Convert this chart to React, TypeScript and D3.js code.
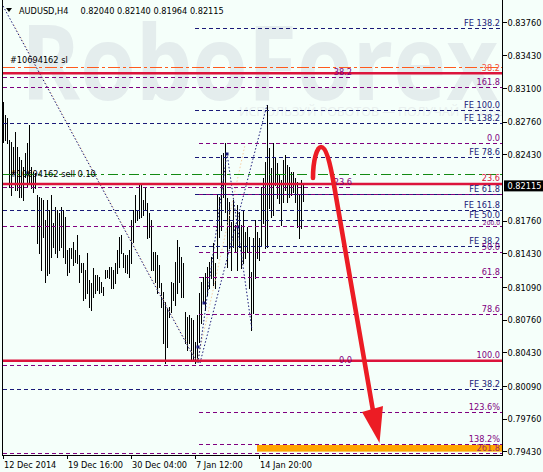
import React from "react";
import * as d3 from "d3";

// ---------- DATA ----------
const barHigh = [
  0.82965, 0.82831, 0.82801, 0.82579, 0.82558, 0.82508, 0.82659, 0.82508, 0.82407, 0.82377,
  0.82306, 0.82447, 0.82548, 0.8273, 0.82306, 0.82255, 0.82245, 0.82023, 0.82003, 0.81993,
  0.81973, 0.81771, 0.81973, 0.81872, 0.82023, 0.8174, 0.81902, 0.81872, 0.81841, 0.81902,
  0.81872, 0.81801, 0.81468, 0.81488, 0.81488, 0.81548, 0.81468, 0.81619, 0.81417, 0.81333,
  0.81333, 0.81266, 0.81434, 0.81165, 0.81131, 0.81283, 0.81215, 0.81215, 0.81198, 0.81147,
  0.81097, 0.81266, 0.81266, 0.81299, 0.81299, 0.81266, 0.81333, 0.81468, 0.81602, 0.81619,
  0.81434, 0.81417, 0.81417, 0.81468, 0.81771, 0.81872, 0.82023, 0.81872, 0.82124, 0.82141,
  0.81973, 0.82107, 0.81939, 0.81838, 0.81771, 0.8145, 0.8145, 0.81417, 0.81316, 0.81131,
  0.81046, 0.80945, 0.80879, 0.80895, 0.81147, 0.81131, 0.81349, 0.81569, 0.81501, 0.814,
  0.81333, 0.80844, 0.80794, 0.80811, 0.80778, 0.80761, 0.80541, 0.80811, 0.8103, 0.81147,
  0.81198, 0.81232, 0.81299, 0.81349, 0.814, 0.81535, 0.81333, 0.82023, 0.82006, 0.82427,
  0.82444, 0.82545, 0.8199, 0.81955, 0.81753, 0.81973, 0.8172, 0.81922, 0.81854, 0.8172,
  0.81872, 0.81652, 0.81703, 0.81602, 0.81248, 0.81586, 0.81771, 0.81652, 0.81586, 0.82107,
  0.82192, 0.82359, 0.82932, 0.82495, 0.82293, 0.82545, 0.82394, 0.82343, 0.82225, 0.82175,
  0.82377, 0.82427, 0.82326, 0.82309, 0.82258, 0.82258, 0.82192, 0.82157, 0.82023, 0.82175,
  0.8214,
];
const barLow = [
  0.82561, 0.82579, 0.82548, 0.82104, 0.82023, 0.82245, 0.82074, 0.82074, 0.82003, 0.82003,
  0.81973, 0.82205, 0.82104, 0.82144, 0.82094, 0.82053, 0.82094, 0.81538, 0.81437, 0.81266,
  0.81599, 0.81144, 0.81215, 0.81235, 0.81397, 0.81498, 0.81437, 0.81397, 0.81468, 0.81498,
  0.81397, 0.81336, 0.81215, 0.81245, 0.81387, 0.81316, 0.81346, 0.81336, 0.81147, 0.81248,
  0.80963, 0.8098, 0.8103, 0.80895, 0.80862, 0.80996, 0.8103, 0.81064, 0.8103, 0.81046,
  0.81013, 0.81182, 0.81198, 0.81182, 0.81081, 0.81081, 0.81131, 0.81232, 0.81299, 0.81434,
  0.81299, 0.81248, 0.81232, 0.81198, 0.81333, 0.81551, 0.81753, 0.81771, 0.81788, 0.81804,
  0.81821, 0.81872, 0.81586, 0.81602, 0.81266, 0.81266, 0.81147, 0.81033, 0.81097, 0.80895,
  0.80525, 0.80323, 0.80491, 0.80794, 0.80844, 0.80963, 0.80912, 0.8103, 0.81147, 0.80996,
  0.80996, 0.80525, 0.80458, 0.80525, 0.80357, 0.80357, 0.80323, 0.80357, 0.80541, 0.80727,
  0.80929, 0.80862, 0.81013, 0.81081, 0.81182, 0.81114, 0.81081, 0.81384, 0.81602, 0.8167,
  0.82006, 0.81854, 0.81299, 0.81485, 0.81266, 0.81501, 0.8145, 0.81266, 0.81501, 0.81283,
  0.81333, 0.81384, 0.8145, 0.81081, 0.8066, 0.80828, 0.81182, 0.81384, 0.81367, 0.81518,
  0.81737, 0.81485, 0.81501, 0.81889, 0.81804, 0.81821, 0.82124, 0.8199, 0.81939, 0.8172,
  0.81955, 0.82074, 0.81955, 0.82006, 0.82023, 0.82056, 0.81955, 0.81703, 0.81586, 0.81687,
  0.81964,
];

const headerSymbol = "AUDUSD,H4";
const headerOHLC = ["0.82040", "0.82140", "0.81964", "0.82115"];
const lastClose = 0.82115;

const priceTicks = [0.8376, 0.8343, 0.831, 0.8276, 0.8243, 0.8176, 0.8143, 0.8109, 0.8076, 0.8043, 0.8009, 0.7976, 0.7943];
const timeTickIndex = [0, 32, 64, 96, 128];
const timeTickLabels = ["12 Dec 2014", "19 Dec 16:00", "30 Dec 04:00", "7 Jan 12:00", "14 Jan 20:00"];

// Fibonacci expansion levels (navy): price, start bar index, label
const feLevelPrice = [0.83707, 0.82874, 0.8274, 0.82397, 0.82023, 0.81867, 0.81766, 0.81505, 0.80054];
const feLevelStart = [95.75, 95.75, -0.25, 95.75, 95.75, -0.25, 95.75, 95.75, -0.25];
const feLevelLabel = ["FE 138.2", "FE 100.0", "FE 138.2", "FE 78.6", "FE 61.8", "FE 161.8", "FE 50.0", "FE 38.2", "FE 38.2"];

// Fibonacci retracement levels (purple): price, start index, end index, label
const fiboPrice = [0.83209, 0.83104, 0.82545, 0.82101, 0.82023, 0.81703, 0.8144, 0.81192, 0.80818, 0.80303, 0.79828, 0.79508, 0.79414];
const fiboStart = [-0.25, -0.25, 97.75, -0.25, 97.75, -0.25, 97.75, 97.75, 97.75, -0.25, 97.75, 97.75, -0.25];
const fiboEnd = [174.25, 249.25, 249.25, 174.25, 249.25, 249.25, 249.25, 249.25, 249.25, 174.25, 249.25, 249.25, 249.25];
const fiboLabel = ["38.2", "161.8", "0.0", "23.6", "", "200.0", "50.0", "61.8", "78.6", "0.0", "123.6%", "138.2%", "261.8"];

// Solid horizontal levels (red)
const redLevelPrice = [0.83252, 0.82134, 0.80349];
const redLevelLabel = ["38.2", "23.6", "100.0"];

// Order lines
const slLevel = 0.83313;
const entryLevel = 0.82232;
const slText = "#10694162 sl";
const entryText = "#10694162 sell 0.10";

// Target zone
const zonePrices = [0.79498, 0.79431];
const zoneStart = 126.75;

// Dotted trend lines: [index1, price1, index2, price2]
const navyTrends = [
  [-0.25, 0.83932, 96.75, 0.80326],
  [97.25, 0.80326, 111.75, 0.82447],
  [98.25, 0.80326, 131.75, 0.82932],
  [111.75, 0.82447, 124.25, 0.8066],
];
const peachTrends = [
  [5.25, 0.8374, 96.75, 0.80336],
  [96.75, 0.80326, 120.75, 0.82528],
];
const anchorPoints = [
  [111.75, 0.82437],
  [97.25, 0.80488],
  [100.25, 0.80932],
  [117.25, 0.817],
];

// Forecast arrow (index, price)
const arrowCurve = [
  [154.75, 0.82194], [154.75, 0.82376], [156.75, 0.82508], [158.75, 0.82508],
  [161.25, 0.82508], [163.25, 0.82356], [165.25, 0.82124], [185.0, 0.79815],
];
const arrowHead = [[179.25, 0.79831], [189.75, 0.79892], [188.0, 0.79518]];

// ---------- LAYOUT ----------
const W = 543;
const H = 472;
const plotLeft = 3;
const plotRight = 502;
const plotTop = 2;
const plotBottom = 455;

const x = d3.scaleLinear().domain([-0.25, 249.25]).range([plotLeft, plotRight]);
const y = d3.scaleLinear().domain([0.79397, 0.83972]).range([plotBottom, plotTop]);

const FONT = "'DejaVu Sans', Verdana, sans-serif";
const FS = 8.2;
const NAVY = "#1a1a78";
const PURPLE = "#800080";
const CRIMSON = "#dc143c";
const BG = "#f5fffa";

const crisp = (v: number) => Math.floor(v) + 0.5;

export default function App() {
  const arrowPath = d3.path();
  const ac = arrowCurve.map(([i, p]) => [x(i), y(p)]);
  arrowPath.moveTo(ac[0][0], ac[0][1]);
  arrowPath.bezierCurveTo(ac[1][0], ac[1][1], ac[2][0], ac[2][1], ac[3][0], ac[3][1]);
  arrowPath.bezierCurveTo(ac[4][0], ac[4][1], ac[5][0], ac[5][1], ac[6][0], ac[6][1]);
  arrowPath.lineTo(ac[7][0], ac[7][1]);
  const headPts = arrowHead.map(([i, p]) => `${x(i)},${y(p)}`).join(" ");

  const redLabelColors = ["#f0503c", CRIMSON, PURPLE];

  return (
    <svg
      width={W}
      height={H}
      style={{ position: "absolute", left: 0, top: 0, display: "block" }}
      fontFamily={FONT}
    >
      <defs>
        <clipPath id="plot">
          <rect x={plotLeft} y={0} width={plotRight - plotLeft} height={plotBottom} />
        </clipPath>
      </defs>
      <rect x={0} y={0} width={W} height={H} fill={BG} />

      {/* watermark */}
      <g clipPath="url(#plot)">
        <text x={21} y={100} fontSize={104} fontFamily="'Open Sans', sans-serif" fontWeight={700}
          fill="#e4eded" textLength={477} lengthAdjust="spacingAndGlyphs">RoboForex</text>
        <text x={239} y={116} fontSize={12.5} fontFamily="'Open Sans', sans-serif"
          fill="#e8efee">ИСПОЛЬЗУЙ РОБОТОВ — ПОЛУЧАЙ ПРИБЫЛЬ</text>
      </g>

      <g clipPath="url(#plot)">
        {/* bars */}
        {barHigh.map((h, i) => (
          <line key={"b" + i} x1={crisp(x(i))} x2={crisp(x(i))} y1={Math.round(y(h))} y2={Math.round(y(barLow[i])) + 1}
            stroke="#000" strokeWidth={1} shapeRendering="crispEdges" />
        ))}

        {/* target zone */}
        <rect x={x(zoneStart)} y={y(zonePrices[0])} width={x(249.25) - x(zoneStart)}
          height={y(zonePrices[1]) - y(zonePrices[0])} fill="#ffa500" />

        {/* dotted trend lines */}
        {peachTrends.map((t, k) => (
          <line key={"pt" + k} x1={x(t[0])} y1={y(t[1])} x2={x(t[2])} y2={y(t[3])}
            stroke="#f7cfa4" strokeWidth={1} strokeDasharray="1.5,2" />
        ))}
        {navyTrends.map((t, k) => (
          <line key={"nt" + k} x1={x(t[0])} y1={y(t[1])} x2={x(t[2])} y2={y(t[3])}
            stroke={NAVY} strokeWidth={1} strokeDasharray="1.5,2" />
        ))}
        {anchorPoints.map((a, k) => (
          <rect key={"ap" + k} x={x(a[0]) - 1.5} y={y(a[1]) - 1.5} width={3} height={3} fill={NAVY} />
        ))}

        {/* navy FE levels */}
        {feLevelPrice.map((p, k) => (
          <line key={"fe" + k} x1={x(feLevelStart[k])} x2={plotRight} y1={crisp(y(p))} y2={crisp(y(p))}
            stroke={NAVY} strokeWidth={1} strokeDasharray="4,3" shapeRendering="crispEdges" />
        ))}
        {/* purple fibo levels */}
        {fiboPrice.map((p, k) => (
          <line key={"fb" + k} x1={x(fiboStart[k])} x2={x(fiboEnd[k])} y1={crisp(y(p))} y2={crisp(y(p))}
            stroke={PURPLE} strokeWidth={1} strokeDasharray="4,3" shapeRendering="crispEdges" />
        ))}

        {/* order lines */}
        <line x1={plotLeft} x2={plotRight} y1={crisp(y(slLevel))} y2={crisp(y(slLevel))}
          stroke="#ff5a1e" strokeWidth={1} strokeDasharray="12,3,3,3" shapeRendering="crispEdges" />
        <line x1={plotLeft} x2={plotRight} y1={crisp(y(entryLevel))} y2={crisp(y(entryLevel))}
          stroke="#138a13" strokeWidth={1} strokeDasharray="10,4,3,4" shapeRendering="crispEdges" />

        {/* red solid levels */}
        {redLevelPrice.map((p, k) => (
          <line key={"rl" + k} x1={plotLeft} x2={plotRight} y1={y(p)} y2={y(p)}
            stroke={CRIMSON} strokeWidth={2.6} />
        ))}

        {/* labels */}
        {feLevelPrice.map((p, k) => (
          <text key={"fel" + k} x={500} y={y(p) - 2.5} fontSize={FS} textAnchor="end" fill={NAVY}>{feLevelLabel[k]}</text>
        ))}
        {fiboPrice.map((p, k) =>
          fiboLabel[k] ? (
            <text key={"fbl" + k} x={x(fiboEnd[k]) - (fiboEnd[k] > 200 ? 2 : 0)} y={y(p) - (fiboLabel[k] === "200.0" ? 1.5 : 2.5)}
              fontSize={fiboLabel[k] === "200.0" ? 6 : FS} textAnchor="end" fill={PURPLE}
              opacity={fiboLabel[k] === "261.8" ? 0.75 : 1}>{fiboLabel[k]}</text>
          ) : null
        )}
        {redLevelPrice.map((p, k) => (
          <text key={"rll" + k} x={500} y={y(p) - 2.5} fontSize={FS} textAnchor="end" fill={redLabelColors[k]}>{redLevelLabel[k]}</text>
        ))}
        <text x={10} y={y(slLevel) - 3.8} fontSize={FS} fill="#000">{slText}</text>
        <text x={10} y={y(entryLevel) + 2.8} fontSize={FS} fill="#000">{entryText}</text>

        {/* forecast arrow */}
        <path d={arrowPath.toString()} fill="none" stroke="#ec1c24" strokeWidth={4.6} strokeLinecap="round" />
        <polygon points={headPts} fill="#ec1c24" />
      </g>

      {/* header */}
      <path d="M6,8 L12,8 L9,12 Z" fill="#000" />
      <text x={19} y={13.5} fontSize={FS} fill="#000">{headerSymbol}</text>
      <text x={80.5} y={13.5} fontSize={FS} fill="#000">{headerOHLC.join(" ")}</text>

      {/* frame */}
      <line x1={2.5} x2={2.5} y1={0} y2={plotBottom} stroke="#000" strokeWidth={1} />
      <line x1={2} x2={plotRight + 1} y1={plotBottom + 0.5} y2={plotBottom + 0.5} stroke="#000" strokeWidth={1} />
      <line x1={plotRight + 0.5} x2={plotRight + 0.5} y1={0} y2={plotBottom + 1} stroke="#000" strokeWidth={1} />

      {/* price axis */}
      {priceTicks.map((p, k) => (
        <g key={"pt" + k}>
          <line x1={plotRight + 1} x2={plotRight + 5} y1={crisp(y(p))} y2={crisp(y(p))} stroke="#000" strokeWidth={1} />
          <text x={507.5} y={y(p) + 3.3} fontSize={FS} fill="#000">{p.toFixed(5)}</text>
        </g>
      ))}
      <rect x={504} y={y(lastClose) - 5.5} width={W - 504} height={11} fill="#000" />
      <text x={507.5} y={y(lastClose) + 3.3} fontSize={FS} fill="#fff">{lastClose.toFixed(5)}</text>

      {/* time axis */}
      {timeTickIndex.map((i, k) => (
        <g key={"tt" + k}>
          <line x1={crisp(x(i))} x2={crisp(x(i))} y1={plotBottom} y2={plotBottom + 4} stroke="#000" strokeWidth={1} />
          <text x={x(i) + 0.5} y={467.5} fontSize={FS} fill="#000">{timeTickLabels[k]}</text>
        </g>
      ))}
    </svg>
  );
}
